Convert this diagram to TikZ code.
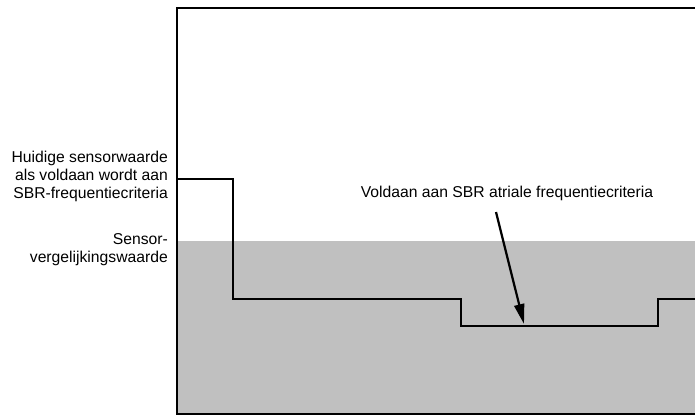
\documentclass[tikz,border=0pt]{standalone}
\usepackage{fontspec}
\setmainfont{Liberation Sans}
\usetikzlibrary{arrows.meta,positioning}

\definecolor{zoneGray}{HTML}{C0C0C0}

\begin{document}
\begin{tikzpicture}[
    x=1pt, y=-1pt,
    font=\fontsize{15.7pt}{18pt}\selectfont,
    sideLabel/.style={
        anchor=east,
        align=right,
        inner sep=0pt
    },
    frameLine/.style={
        line width=2.8pt,
        draw=black,
        line join=miter
    },
    signalLine/.style={
        line width=2.8pt,
        draw=black,
        line join=miter
    },
    pointerLine/.style={
        line width=2.2pt,
        draw=black,
        -{Triangle[length=20pt,width=10pt]}
    }
]
\useasboundingbox (0,0) rectangle (695,417);

% ==================== ZONE & FRAME ====================
\fill[zoneGray] (177,241) rectangle (695,414);
\draw[frameLine] (695,8) -- (177,8) -- (177,414) -- (695,414);

% ==================== SENSOR SIGNAL ====================
\draw[signalLine] (177,179) -- (233,179) -- (233,299) -- (461,299)
    -- (461,326) -- (658,326) -- (658,299) -- (695,299);

% ==================== LABELS ====================
\node[sideLabel] (lblCurrent) at (168,176) {Huidige sensorwaarde\\als voldaan wordt aan\\SBR-frequentiecriteria};
\node[sideLabel] (lblCompare) at (168,250) {Sensor-\\vergelijkingswaarde};
\node[inner sep=0pt] (lblCriteria) at (507,193) {Voldaan aan SBR atriale frequentiecriteria};

\coordinate (arrowStart) at (496,212);
\coordinate (arrowTip) at (524,324);
\draw[pointerLine] (arrowStart) -- (arrowTip);

\end{tikzpicture}
\end{document}
